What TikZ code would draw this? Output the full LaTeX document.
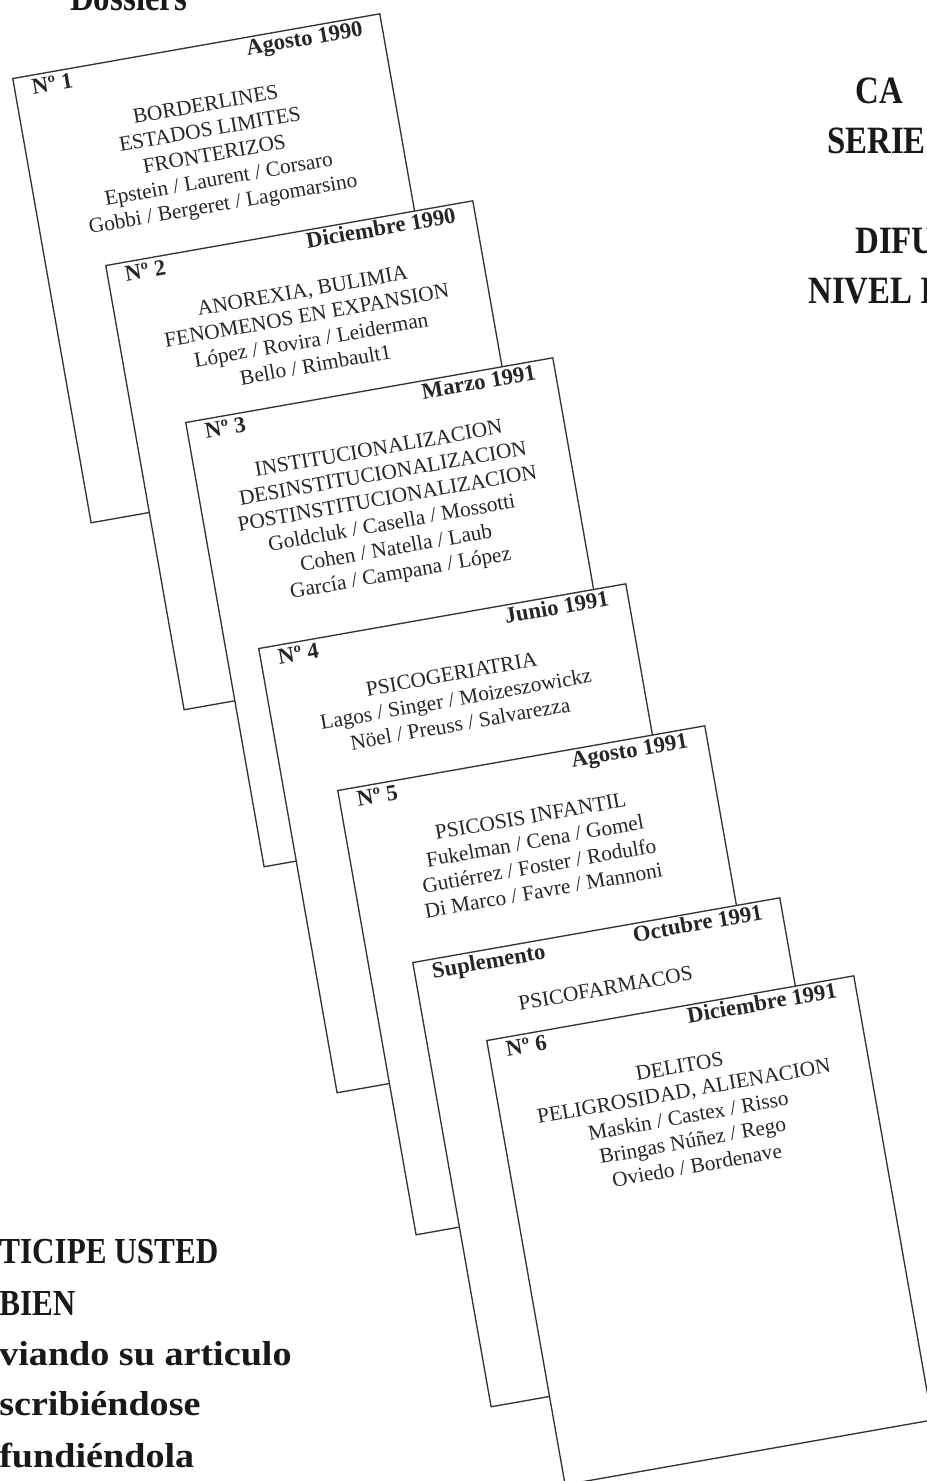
\documentclass[tikz,border=0pt]{standalone}
\usepackage{fontspec}
\newfontfamily\cardfont{Liberation Serif}
\newfontfamily\headfont{Liberation Serif}[FakeStretch=0.85]
\newfontfamily\wordfont{Liberation Serif}[FakeStretch=1.1]

\begin{document}
\begin{tikzpicture}[x=0.75pt,y=-0.75pt,
  card/.style={draw=black!80,line width=1pt,fill=white,minimum width=279.5pt,minimum height=338.3pt,anchor=north west,inner sep=0pt},
  issue/.style={font=\cardfont\bfseries\fontsize{17}{19}\selectfont,text=black!85,anchor=base west,inner sep=0pt},
  date/.style={font=\cardfont\bfseries\fontsize{17}{19}\selectfont,text=black!85,anchor=base east,inner sep=0pt},
  topic/.style={font=\cardfont\fontsize{16}{18.9}\selectfont,text=black!85,align=center,anchor=north,inner sep=0pt},
  bighead/.style={font=\headfont\bfseries\fontsize{29}{36}\selectfont,text=black!90,anchor=base west,inner sep=0pt},
  callcaps/.style={font=\headfont\bfseries\fontsize{27.5}{32}\selectfont,text=black!90,anchor=base west,inner sep=0pt},
  callword/.style={font=\wordfont\bfseries\fontsize{26}{32}\selectfont,text=black!90,anchor=base west,inner sep=0pt}]
  \path[use as bounding box,fill=white] (0,0) rectangle (926,1481);

  \node[bighead] (dos) at (70,10) {Dossiers};
  \node[bighead] (ca) at (855,103) {CA};
  \node[bighead] (serie) at (827,153) {SERIE};
  \node[bighead] (difu) at (855,253) {DIFU};
  \node[bighead] (nivel) at (808,303) {NIVEL I};

  \begin{scope}[shift={(12,78)},rotate=10,transform shape]
    \node[card] (c1) at (0,0) {};
    \node[issue] (n1) at (18,20) {Nº 1};
    \node[date] (d1) at (354,19) {Agosto 1990};
    \node[topic] (t1) at (186,52) {BORDERLINES\\ESTADOS LIMITES\\FRONTERIZOS\\Epstein / Laurent / Corsaro\\Gobbi / Bergeret / Lagomarsino};
  \end{scope}
  \begin{scope}[shift={(105,265)},rotate=10,transform shape]
    \node[card] (c2) at (0,0) {};
    \node[issue] (n2) at (18,20) {Nº 2};
    \node[date] (d2) at (354,19) {Diciembre 1990};
    \node[topic] (t2) at (190,52) {ANOREXIA, BULIMIA\\FENOMENOS EN EXPANSION\\López / Rovira / Leiderman\\Bello / Rimbault1};
  \end{scope}
  \begin{scope}[shift={(185,422)},rotate=10,transform shape]
    \node[card] (c3) at (0,0) {};
    \node[issue] (n3) at (18,20) {Nº 3};
    \node[date] (d3) at (354,19) {Marzo 1991};
    \node[topic] (t3) at (186,52) {INSTITUCIONALIZACION\\DESINSTITUCIONALIZACION\\POSTINSTITUCIONALIZACION\\Goldcluk / Casella / Mossotti\\Cohen / Natella / Laub\\García / Campana / López};
  \end{scope}
  \begin{scope}[shift={(258,648)},rotate=10,transform shape]
    \node[card] (c4) at (0,0) {};
    \node[issue] (n4) at (18,20) {Nº 4};
    \node[date] (d4) at (354,19) {Junio 1991};
    \node[topic] (t4) at (186,52) {PSICOGERIATRIA\\Lagos / Singer / Moizeszowickz\\Nöel / Preuss / Salvarezza};
  \end{scope}
  \begin{scope}[shift={(337,790)},rotate=10,transform shape]
    \node[card] (c5) at (0,0) {};
    \node[issue] (n5) at (18,20) {Nº 5};
    \node[date] (d5) at (354,19) {Agosto 1991};
    \node[topic] (t5) at (186,52) {PSICOSIS INFANTIL\\Fukelman / Cena / Gomel\\Gutiérrez / Foster / Rodulfo\\Di Marco / Favre / Mannoni};
  \end{scope}
  \begin{scope}[shift={(412,962)},rotate=10,transform shape]
    \node[card] (cs) at (0,0) {};
    \node[issue] (ns) at (18,20) {Suplemento};
    \node[date] (ds) at (354,19) {Octubre 1991};
    \node[topic] (ts) at (186,52) {PSICOFARMACOS};
  \end{scope}
  \begin{scope}[shift={(486,1040)},rotate=10,transform shape]
    \node[card] (c6) at (0,0) {};
    \node[issue] (n6) at (18,20) {Nº 6};
    \node[date] (d6) at (354,19) {Diciembre 1991};
    \node[topic] (t6) at (186,52) {DELITOS\\PELIGROSIDAD, ALIENACION\\Maskin / Castex / Risso\\Bringas Núñez / Rego\\Oviedo / Bordenave};
  \end{scope}

  \node[callcaps] (p1) at (-1,1263) {TICIPE USTED};
  \node[callcaps] (p2) at (-1,1315) {BIEN};
  \node[callword] (p3) at (-1,1365) {viando su articulo};
  \node[callword] (p4) at (-1,1415) {scribiéndose};
  \node[callword] (p5) at (-1,1467) {fundiéndola};
\end{tikzpicture}
\end{document}
